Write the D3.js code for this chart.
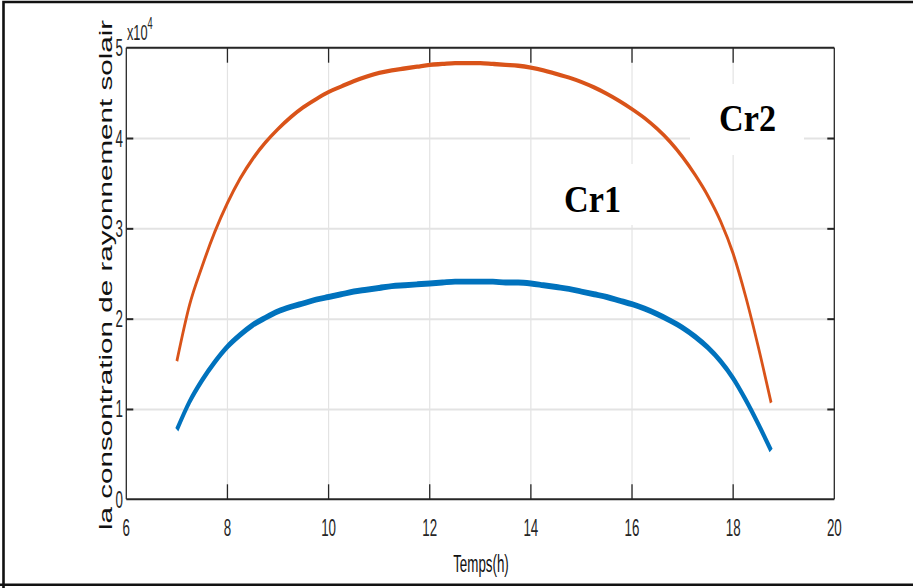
<!DOCTYPE html>
<html>
<head>
<meta charset="utf-8">
<script src="https://cdn.jsdelivr.net/npm/d3@7"></script>
<style>
  html, body { margin: 0; padding: 0; background: #fff; }
  svg { display: block; }
</style>
</head>
<body>
<svg id="chart" width="913" height="588"></svg>
<script>
// Time of day (hours)
const hours = [7.00, 7.25, 7.50, 7.75, 8.00, 8.25, 8.50, 8.75, 9.00, 9.25, 9.50, 9.75,
  10.00, 10.25, 10.50, 10.75, 11.00, 11.25, 11.50, 11.75, 12.00, 12.25, 12.50, 12.75,
  13.00, 13.25, 13.50, 13.75, 14.00, 14.25, 14.50, 14.75, 15.00, 15.25, 15.50, 15.75,
  16.00, 16.25, 16.50, 16.75, 17.00, 17.25, 17.50, 17.75, 18.00, 18.25, 18.50, 18.75];

// Cr1 – concentrated solar radiation (×10^4)
const cr1 = [0.77, 1.08, 1.32, 1.52, 1.69, 1.82, 1.93, 2.01, 2.08, 2.13, 2.17, 2.21,
  2.24, 2.27, 2.30, 2.32, 2.34, 2.36, 2.37, 2.38, 2.39, 2.40, 2.41, 2.41,
  2.41, 2.41, 2.40, 2.40, 2.39, 2.37, 2.35, 2.33, 2.30, 2.27, 2.24, 2.20,
  2.16, 2.11, 2.05, 1.98, 1.90, 1.80, 1.68, 1.53, 1.34, 1.10, 0.83, 0.54];

// Cr2 – concentrated solar radiation (×10^4)
const cr2 = [1.53, 2.15, 2.58, 2.96, 3.28, 3.55, 3.77, 3.95, 4.10, 4.23, 4.34, 4.43,
  4.51, 4.57, 4.63, 4.68, 4.72, 4.75, 4.77, 4.79, 4.81, 4.82, 4.83, 4.83,
  4.83, 4.82, 4.81, 4.80, 4.78, 4.75, 4.71, 4.67, 4.62, 4.56, 4.49, 4.41,
  4.32, 4.22, 4.10, 3.96, 3.79, 3.59, 3.36, 3.08, 2.72, 2.24, 1.68, 1.07];

const xTicks = [6, 8, 10, 12, 14, 16, 18, 20];
const yTicks = [0, 1, 2, 3, 4, 5];
const xLabel = "Temps(h)";
const yLabel = "la consontration de rayonnement solair";
const seriesNames = ["Cr1", "Cr2"];

const svg = d3.select("#chart");
const W = 913, H = 588;
const L = 126.3, R = 834.3, T = 47.7, B = 499.3;
const VS = 1.6; // vertical stretch of the exported figure

const x = d3.scaleLinear().domain([6, 20]).range([L, R]);
const y = d3.scaleLinear().domain([0, 5]).range([B, T]);
// same vertical scale, expressed in the stretched drawing space
const yS = d3.scaleLinear().domain([0, 5]).range([B / VS, T / VS]);

const axisColor = "#262626";
const gridColor = "#e3e3e3";
const font = "'Liberation Sans', Arial, Helvetica, sans-serif";

// outer frame
svg.append("path")
  .attr("d", `M3.5,${H + 5} V2 H${W + 5} M0,584.8 H${W + 5}`)
  .attr("fill", "none").attr("stroke", "#111").attr("stroke-width", 2.6);

svg.append("rect").attr("x", L).attr("y", T).attr("width", R - L).attr("height", B - T)
  .attr("fill", "#fff");

// grid
const grid = svg.append("g");
grid.selectAll("line.gx").data(xTicks.slice(1, -1)).join("line")
  .attr("x1", d => x(d)).attr("x2", d => x(d)).attr("y1", T).attr("y2", B)
  .attr("stroke", gridColor).attr("stroke-width", 1.2);
grid.selectAll("line.gy").data(yTicks.slice(1)).join("line")
  .attr("x1", L).attr("x2", R).attr("y1", d => y(d) + 0.5).attr("y2", d => y(d) + 0.5)
  .attr("stroke", gridColor).attr("stroke-width", 2);

// label backgrounds
svg.append("rect").attr("x", 540).attr("y", 164).attr("width", 110).attr("height", 61).attr("fill", "#fff");
svg.append("rect").attr("x", 690).attr("y", 84).attr("width", 114).attr("height", 71).attr("fill", "#fff");

// curves, drawn in a vertically stretched space so strokes thicken like the exported figure
const curves = svg.append("g").attr("transform", `scale(1,${VS})`);
const line = vals => d3.line().curve(d3.curveMonotoneX)
  .x((d, i) => x(hours[i])).y(d => yS(d))(vals);
curves.append("path").attr("d", line(cr2)).attr("fill", "none")
  .attr("stroke", "#D95319").attr("stroke-width", 2.7).attr("stroke-linejoin", "round");
curves.append("path").attr("d", line(cr1)).attr("fill", "none")
  .attr("stroke", "#0072BD").attr("stroke-width", 3.7).attr("stroke-linejoin", "round");

// axes box and ticks
const ax = svg.append("g").attr("stroke", axisColor).attr("fill", "none");
ax.append("line").attr("x1", L).attr("x2", R).attr("y1", B).attr("y2", B).attr("stroke-width", 2);
ax.append("line").attr("x1", L).attr("x2", R).attr("y1", T).attr("y2", T).attr("stroke-width", 2);
ax.append("line").attr("x1", L).attr("x2", L).attr("y1", T).attr("y2", B).attr("stroke-width", 1.3);
ax.append("line").attr("x1", R).attr("x2", R).attr("y1", T).attr("y2", B).attr("stroke-width", 1.3);
ax.selectAll("line.tb").data(xTicks.slice(1, -1)).join("line")
  .attr("x1", d => x(d)).attr("x2", d => x(d)).attr("y1", B).attr("y2", B - 15).attr("stroke-width", 1.3);
ax.selectAll("line.tt").data(xTicks.slice(1, -1)).join("line")
  .attr("x1", d => x(d)).attr("x2", d => x(d)).attr("y1", T).attr("y2", T + 15).attr("stroke-width", 1.3);
ax.selectAll("line.tl").data(yTicks.slice(1, -1)).join("line")
  .attr("x1", L).attr("x2", L + 7).attr("y1", d => y(d) + 0.5).attr("y2", d => y(d) + 0.5).attr("stroke-width", 2);
ax.selectAll("line.tr").data(yTicks.slice(1, -1)).join("line")
  .attr("x1", R - 7).attr("x2", R).attr("y1", d => y(d) + 0.5).attr("y2", d => y(d) + 0.5).attr("stroke-width", 2);

// tick labels (narrow, tall glyphs)
const SX = 0.58;
svg.append("g").selectAll("text").data(xTicks).join("text")
  .attr("transform", d => `translate(${x(d)},536) scale(${SX},1)`)
  .attr("text-anchor", "middle").attr("font-family", font).attr("font-size", 23)
  .attr("fill", axisColor).text(d => d);
svg.append("g").selectAll("text").data(yTicks).join("text")
  .attr("transform", d => `translate(123,${y(d) + 8.5}) scale(${SX},1)`)
  .attr("text-anchor", "end").attr("font-family", font).attr("font-size", 23)
  .attr("fill", axisColor).text(d => d);

// exponent
const ex = svg.append("text").attr("transform", `translate(127,40) scale(${SX},1)`)
  .attr("font-family", font).attr("font-size", 22).attr("fill", axisColor);
ex.append("tspan").text("x10");
ex.append("tspan").attr("dy", -11).attr("font-size", 16).text("4");

// axis titles
svg.append("text").attr("transform", `translate(481,572) scale(${SX},1)`)
  .attr("text-anchor", "middle").attr("font-family", font).attr("font-size", 23)
  .attr("fill", "#111").text(xLabel);
svg.append("text").attr("transform", `translate(112,530) rotate(-90) scale(1.645,1)`)
  .attr("font-family", font).attr("font-size", 18).attr("fill", "#111").text(yLabel);

// series labels
const lab = [{ name: seriesNames[0], cx: 592.5, by: 212 }, { name: seriesNames[1], cx: 747.5, by: 131 }];
svg.append("g").selectAll("text").data(lab).join("text")
  .attr("transform", d => `translate(${d.cx},${d.by}) scale(0.9,1)`)
  .attr("text-anchor", "middle").attr("font-family", "'Liberation Serif', 'Times New Roman', serif")
  .attr("font-weight", "bold").attr("font-size", 38).attr("fill", "#000").text(d => d.name);
</script>
</body>
</html>
